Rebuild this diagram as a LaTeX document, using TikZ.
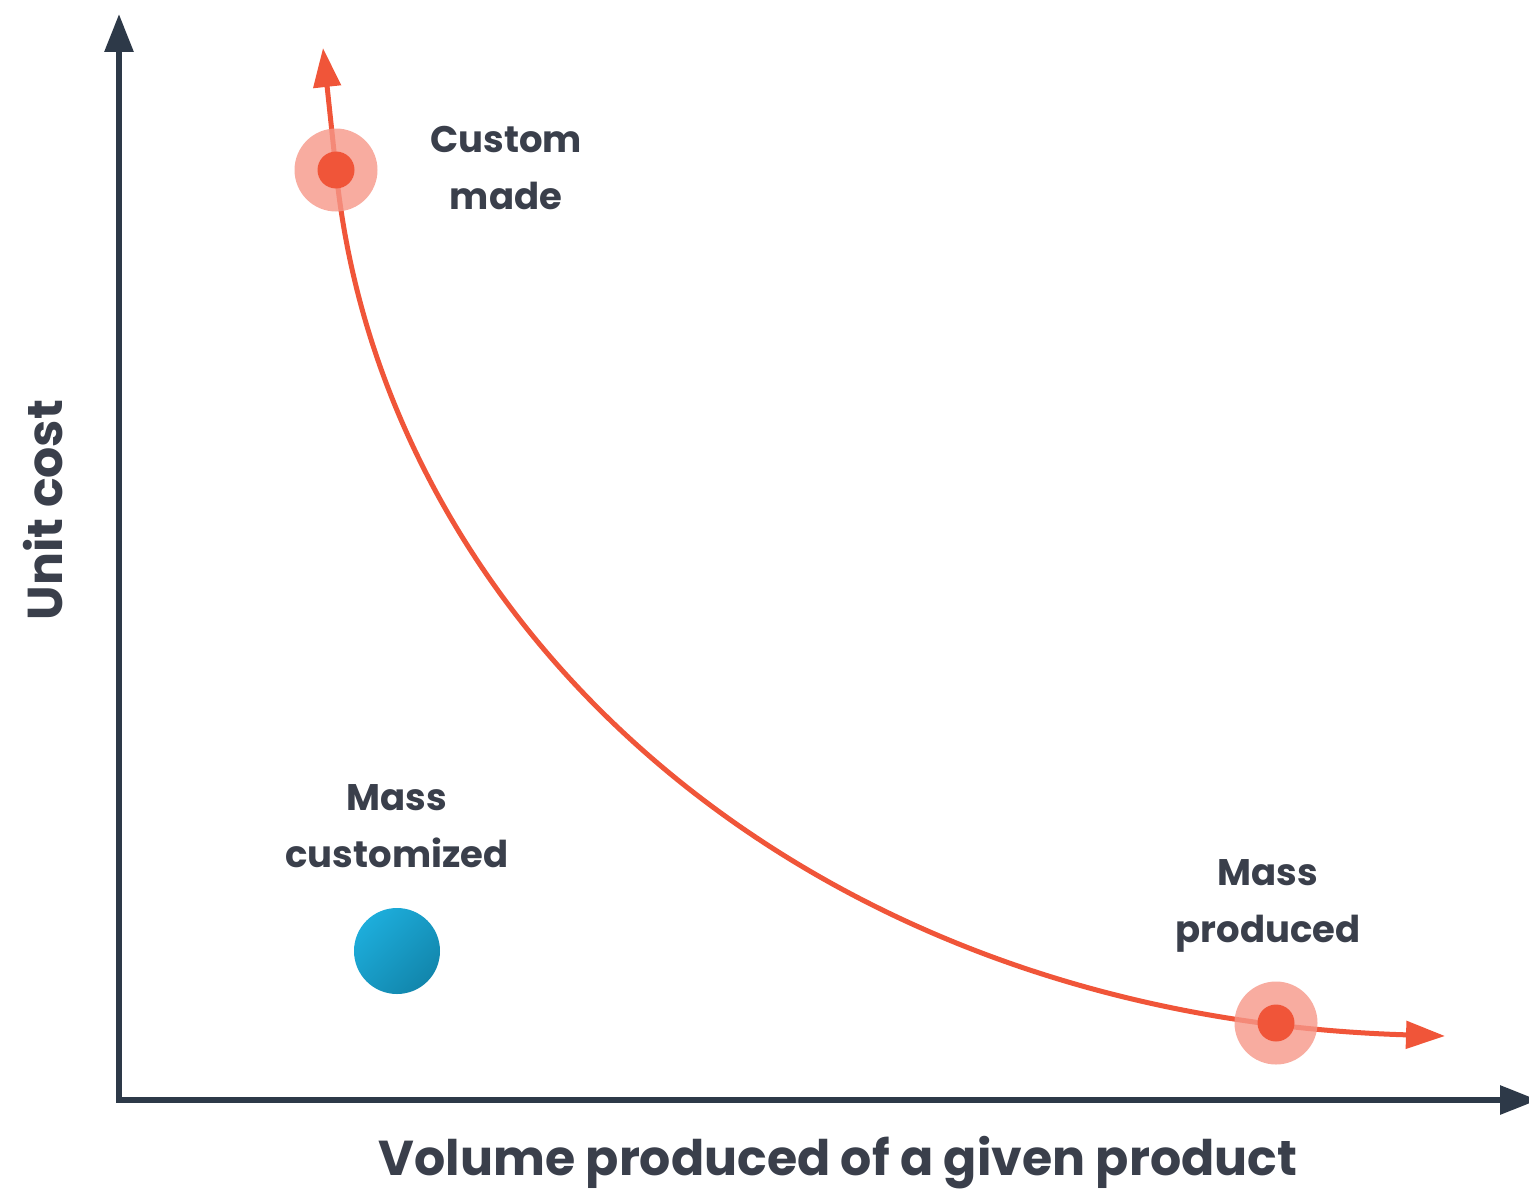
\documentclass[tikz,border=0pt]{standalone}
\usepackage{fontspec}
\setmainfont{Poppins}
\usetikzlibrary{arrows.meta}
\definecolor{axisc}{RGB}{45,57,72}
\definecolor{txtc}{RGB}{58,63,75}
\definecolor{curvec}{RGB}{240,85,57}
\definecolor{haloc}{RGB}{246,151,136}
\definecolor{bluetl}{RGB}{29,173,219}
\definecolor{bluebr}{RGB}{18,134,172}
\tikzset{every picture/.style={line width=0.75pt}}

\begin{document}
\begin{tikzpicture}[x=0.5pt,y=0.5pt,yscale=-1,xscale=1,
	axis/.style={draw=axisc, line width=3pt, line join=miter, {Triangle[length=19pt,width=14pt]}-{Triangle[length=19pt,width=14pt]}},
	curve/.style={draw=curvec, line width=2.5pt, {Triangle[length=19.5pt,width=13.5pt]}-{Triangle[length=19.5pt,width=13.5pt]}},
	halo/.style={circle, fill=haloc, fill opacity=0.8, minimum size=41.5pt, inner sep=0pt},
	dot/.style={circle, fill=curvec, minimum size=18.5pt, inner sep=0pt},
	ball/.style={circle, minimum size=43pt, inner sep=0pt, top color=bluetl, bottom color=bluebr, shading angle=45},
	lbl/.style={text=txtc, font=\fontsize{18.5}{28.5}\selectfont\bfseries, align=center, inner sep=0pt},
	axlbl/.style={text=txtc, font=\fontsize{24.5}{30}\selectfont\bfseries, inner sep=0pt}]
	\useasboundingbox (0,0) rectangle (1529,1193);
	
	% Coordinates
	\coordinate (o) at (119,1100);
	\coordinate (ytip) at (119,14);
	\coordinate (xtip) at (1538,1100);
	\coordinate (ctop) at (323,48);
	\coordinate (cend) at (1445,1036);
	\coordinate (cm) at (336,170);
	\coordinate (mp) at (1276,1023);
	
	% Axes
	\draw [axis] (ytip) -- (o) -- (xtip);
	% Cost curve
	\draw [curve] (ctop) -- (cm) .. controls (381,620) and (795,1016.5) .. (cend);
	
	% Points on the curve
	\node [halo] (cm-halo) at (cm) {};
	\node [dot] (custom) at (cm) {};
	\node [halo] (mp-halo) at (mp) {};
	\node [dot] (massprod) at (mp) {};
	% Mass customized point
	\node [ball] (masscust) at (397,951) {};
	
	% Text Nodes
	\node [lbl] (custom-lbl) at (506,168) {Custom\\made};
	\node [lbl] (masscust-lbl) at (397,826) {Mass\\customized};
	\node [lbl] (massprod-lbl) at (1268,906) {Mass\\produced};
	\node [axlbl, anchor=base] (xlbl) at (838,1175) {Volume produced of a given product};
	\node [axlbl, rotate=90, anchor=base] (ylbl) at (62,510) {Unit cost};
	
\end{tikzpicture}
\end{document}
